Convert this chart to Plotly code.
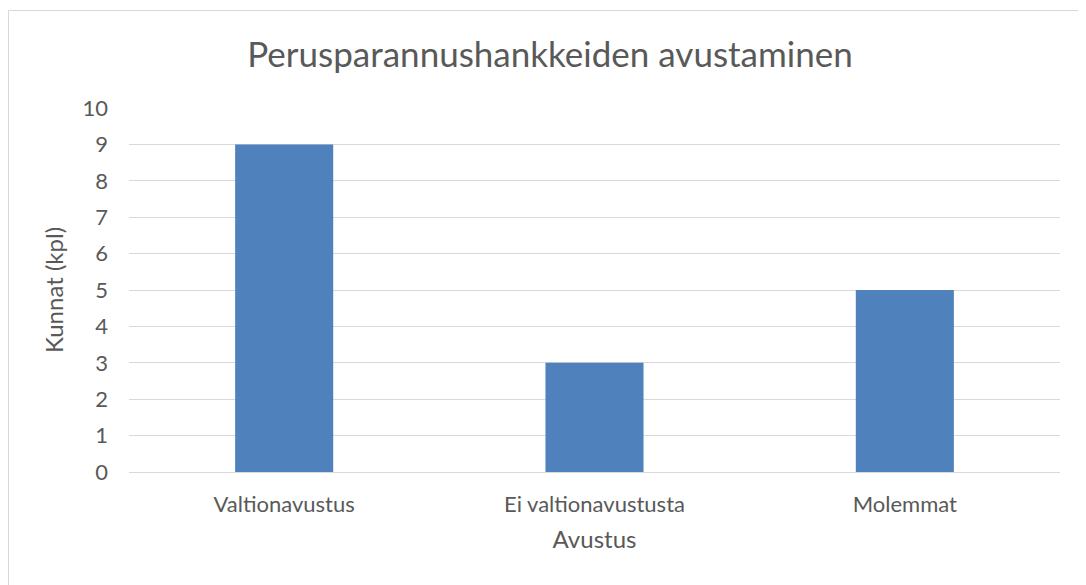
import plotly.graph_objects as go

categories = ["Valtionavustus", "Ei valtionavustusta", "Molemmat"]
values = [9, 3, 5]
y_ticks = list(range(0, 11))

W, H = 1086, 585
OFF = 8  # page body offset
L, R, T, B = 121, 34, 100, 121
pw, ph = W - L - R, H - T - B

def px(sx):
    return (sx - OFF - L) / pw

def py(sy):
    return (H - B - (sy - OFF)) / ph

fig = go.Figure(go.Bar(
    x=categories, y=values,
    marker=dict(color="#4F81BD", line=dict(width=0)),
    width=0.316,
))

font = "Lato, 'Open Sans', sans-serif"
fig.update_layout(
    width=W, height=H,
    margin=dict(l=L, r=R, t=T, b=B),
    paper_bgcolor="white", plot_bgcolor="white",
    font=dict(family=font, color="#595959", size=22),
    title=dict(text="Perusparannushankkeiden avustaminen", x=px(550), xanchor="center",
               xref="paper", y=1 - (55 - OFF) / H, yanchor="middle",
               font=dict(size=35, color="#595959")),
    showlegend=False,
    shapes=[dict(type="rect", xref="paper", yref="paper",
                 x0=px(8.5), x1=px(1120), y0=py(10.5), y1=py(640),
                 line=dict(color="#D9D9D9", width=1), fillcolor="rgba(0,0,0,0)", layer="below")],
)
fig.update_xaxes(
    title=dict(text="Avustus", font=dict(size=24, color="#595959"), standoff=15),
    showgrid=False, showline=False, ticks="", tickfont=dict(size=22),
    ticklabelstandoff=17,
)
fig.update_yaxes(
    title=dict(text="Kunnat (kpl)", font=dict(size=24, color="#595959"), standoff=12),
    range=[0, 10], tickvals=y_ticks, showgrid=True, gridcolor="#D9D9D9", gridwidth=1,
    zeroline=True, zerolinecolor="#D9D9D9", zerolinewidth=1, showline=False, ticks="",
    tickfont=dict(size=22), ticklabelstandoff=20,
)

fig.write_html("out.html")
